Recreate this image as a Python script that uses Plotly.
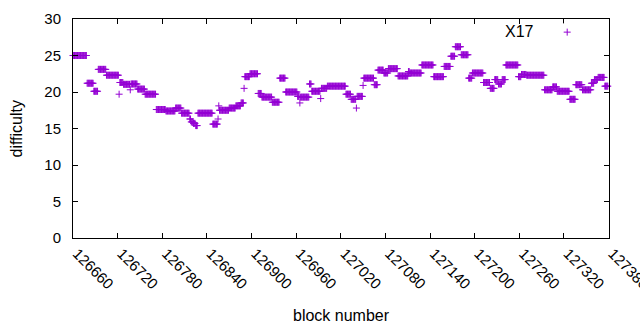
import plotly.graph_objects as go

# Runs of constant difficulty: first block, last block, difficulty
run_start = [126660, 126679, 126688, 126694, 126705, 126722, 126723, 126728, 126737, 126738,
             126747, 126757, 126772, 126785, 126798, 126806, 126817, 126819, 126822, 126825,
             126828, 126848, 126855, 126856, 126857, 126870, 126879, 126886, 126890, 126891,
             126898, 126909, 126914, 126928, 126938, 126946, 126962, 126965, 126966, 126978,
             126981, 126993, 126994, 127002, 127027, 127034, 127041, 127042, 127050, 127051,
             127065, 127070, 127078, 127084, 127097, 127111, 127113, 127129, 127145, 127159,
             127168, 127174, 127182, 127192, 127197, 127212, 127221, 127227, 127232, 127237,
             127242, 127259, 127263, 127270, 127294, 127305, 127311, 127328, 127336, 127345,
             127357, 127361, 127366, 127375]
run_end = [126678, 126687, 126693, 126704, 126721, 126722, 126727, 126736, 126737, 126746,
           126756, 126771, 126784, 126797, 126805, 126816, 126818, 126821, 126824, 126827,
           126847, 126854, 126855, 126856, 126869, 126878, 126885, 126889, 126890, 126897,
           126908, 126913, 126927, 126937, 126945, 126961, 126964, 126965, 126977, 126980,
           126992, 126993, 127001, 127026, 127033, 127040, 127041, 127049, 127050, 127064,
           127069, 127077, 127083, 127096, 127110, 127112, 127128, 127144, 127158, 127167,
           127173, 127181, 127191, 127196, 127211, 127220, 127226, 127231, 127236, 127241,
           127258, 127262, 127269, 127293, 127304, 127310, 127327, 127335, 127344, 127356,
           127360, 127365, 127374, 127379]
run_value = [25.0, 21.2, 20.1, 23.1, 22.3, 19.7, 21.3, 21.05, 20.3, 21.1,
             20.4, 19.7, 17.6, 17.4, 17.8, 17.1, 16.3, 15.9, 15.7, 15.4,
             17.1, 15.6, 16.3, 18.1, 17.5, 17.8, 18.1, 18.5, 20.5, 22.1,
             22.5, 19.8, 19.3, 18.6, 21.9, 20.0, 19.4, 18.5, 19.3, 21.1,
             20.1, 19.1, 20.5, 20.8, 19.7, 19.0, 17.8, 19.4, 20.9, 21.9,
             21.0, 23.0, 22.6, 23.2, 22.2, 22.8, 22.6, 23.7, 22.1, 23.5,
             24.9, 26.2, 25.1, 21.9, 22.6, 21.3, 20.5, 21.7, 21.1, 21.7,
             23.7, 22.1, 22.4, 22.3, 20.3, 20.7, 20.1, 19.0, 21.0, 20.3,
             21.2, 21.7, 22.0, 20.8]

x_ticks = list(range(126660, 127381, 60))
y_ticks = [0, 5, 10, 15, 20, 25, 30]
series_name = "X17"

blocks, diffs = [], []
for s, e, v in zip(run_start, run_end, run_value):
    for b in range(s, e + 1):
        blocks.append(b)
        diffs.append(v)

color = "#9400D3"
tick_font = dict(family="Liberation Sans, Arial, sans-serif", size=15, color="black")
title_font = dict(family="Liberation Sans, Arial, sans-serif", size=16, color="black")
marker = dict(symbol="cross-thin", size=5, color=color, line=dict(width=1, color=color))

fig = go.Figure()
fig.add_trace(go.Scatter(x=blocks, y=diffs, mode="markers", marker=marker,
                         cliponaxis=False, showlegend=False, name=series_name))
# legend sample (gnuplot style: text then symbol), on a small unit axis
fig.add_trace(go.Scatter(x=[0.5], y=[0.5], mode="markers", marker=marker,
                         xaxis="x2", yaxis="y2", showlegend=False, hoverinfo="skip",
                         cliponaxis=False))

fig.update_layout(
    width=640, height=330,
    margin=dict(l=73, r=31, t=19, b=92),
    paper_bgcolor="white", plot_bgcolor="white",
    font=tick_font,
    xaxis=dict(range=[126660, 127380.6], tickvals=x_ticks, ticktext=[str(t) for t in x_ticks],
               tickangle=45, ticks="inside", ticklen=5, tickcolor="black",
               showline=True, linecolor="black", linewidth=1, mirror="ticks",
               showgrid=False, zeroline=False, tickfont=tick_font, automargin=False,
               ticklabeloverflow="allow", ticklabelshift=4),
    yaxis=dict(range=[0, 30], tickvals=y_ticks, ticks="inside", ticklen=5, tickcolor="black",
               showline=True, linecolor="black", linewidth=1, mirror="ticks",
               showgrid=False, zeroline=False, tickfont=tick_font, ticklabelstandoff=8,
               automargin=False),
    xaxis2=dict(domain=[0.905, 0.939], range=[0, 1], visible=False, anchor="y2"),
    yaxis2=dict(domain=[0.90, 0.98], range=[0, 1], visible=False, anchor="x2"),
    annotations=[
        dict(text="block number", x=0.5, y=-0.352, xref="paper", yref="paper",
             showarrow=False, xanchor="center", yanchor="middle", font=title_font),
        dict(text="difficulty", x=-0.1045, y=0.5, xref="paper", yref="paper",
             showarrow=False, xanchor="center", yanchor="middle", textangle=-90,
             font=title_font),
        dict(text=series_name, x=0.864, y=0.945, xref="paper", yref="paper",
             showarrow=False, xanchor="right", yanchor="middle", font=title_font),
    ],
)

fig.write_html("out.html", post_script="document.body.style.margin='0';",
               config={"displayModeBar": False})
